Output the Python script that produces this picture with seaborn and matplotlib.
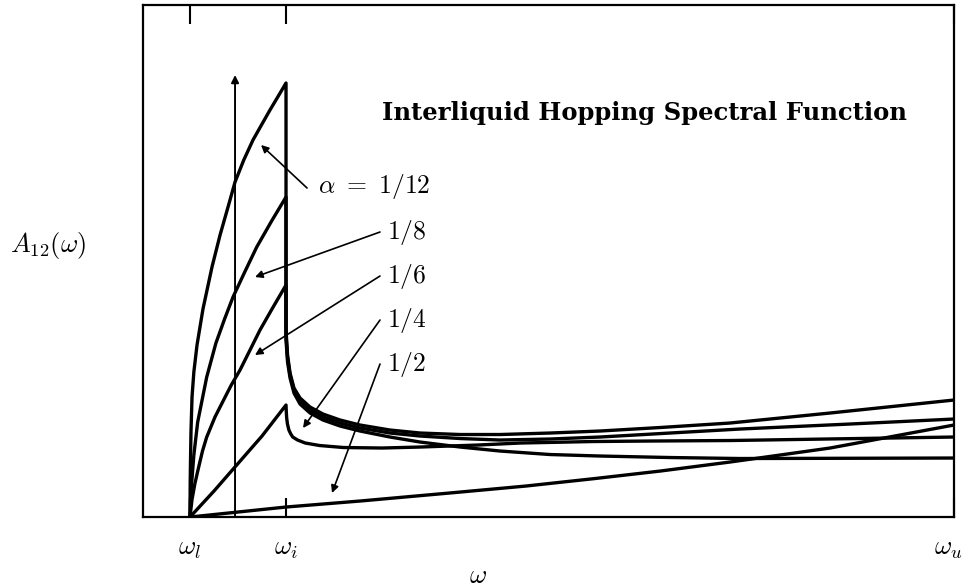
import matplotlib
matplotlib.use('Agg')
import matplotlib.pyplot as plt
import matplotlib.transforms as mtransforms
import seaborn as sns
import pandas as pd

# omega axis: omega_l = 0, omega_i = 1, omega_u = 7.958 (arbitrary units)
tick_pos = [0.0, 1.0, 7.958]
tick_labels = [r'$\omega_l$', r'$\omega_i$', r'$\omega_u$']

# curves (x = omega, y = A12)
x_12 = [0, 0.002, 0.005, 0.01, 0.021, 0.04, 0.073, 0.135, 0.229, 0.313, 0.396, 0.469, 0.56,
        0.656, 0.75, 0.833, 0.92, 1.0,
        1.0, 1.016, 1.042, 1.083, 1.146, 1.25, 1.385, 1.563, 1.771, 2.083, 2.396, 2.813,
        3.229, 3.75, 4.271, 4.896, 5.625, 6.667, 7.958]
y_12 = [0, 0.35, 0.55, 0.85, 1.20, 1.45, 1.72, 2.08, 2.50, 2.82, 3.10, 3.35, 3.57,
        3.77, 3.93, 4.07, 4.21, 4.34,
        1.87, 1.62, 1.44, 1.29, 1.19, 1.10, 1.03, 0.97, 0.92, 0.87, 0.84, 0.825,
        0.825, 0.84, 0.86, 0.895, 0.94, 1.04, 1.17]

x_8 = [0, 0.005, 0.018, 0.04, 0.08, 0.174, 0.27, 0.36, 0.448, 0.57, 0.695, 0.85, 1.0,
       1.0, 1.016, 1.042, 1.083, 1.146, 1.25, 1.385, 1.563, 1.771, 2.083, 2.396, 2.813,
       3.229, 3.75, 4.271, 5.0, 5.729, 6.875, 7.958]
y_8 = [0, 0.18, 0.35, 0.62, 0.95, 1.40, 1.74, 1.98, 2.20, 2.45, 2.70, 2.96, 3.20,
       1.82, 1.59, 1.42, 1.27, 1.16, 1.07, 1.00, 0.94, 0.89, 0.84, 0.81, 0.785,
       0.77, 0.78, 0.80, 0.84, 0.88, 0.93, 0.98]

x_6 = [0, 0.02, 0.05, 0.083, 0.13, 0.174, 0.26, 0.35, 0.43, 0.521, 0.62, 0.729, 0.86, 1.0,
       1.0, 1.016, 1.042, 1.083, 1.146, 1.25, 1.385, 1.563, 1.771, 2.083, 2.396, 2.813,
       3.229, 3.75, 4.271, 5.0, 5.729, 7.958]
y_6 = [0, 0.17, 0.33, 0.47, 0.66, 0.80, 1.00, 1.17, 1.32, 1.47, 1.66, 1.87, 2.09, 2.32,
       1.77, 1.55, 1.39, 1.24, 1.13, 1.04, 0.97, 0.91, 0.86, 0.80, 0.75, 0.70,
       0.66, 0.625, 0.61, 0.595, 0.585, 0.59]

x_4 = [0, 0.25, 0.486, 0.75, 1.0, 1.003, 1.007, 1.015, 1.03, 1.05, 1.07, 1.12, 1.2, 1.35,
       1.6, 2.0, 2.4, 3.0, 3.44, 4.2, 4.8, 5.625, 7.958]
y_4 = [0, 0.26, 0.52, 0.81, 1.12, 1.05, 0.99, 0.93, 0.87, 0.83, 0.80, 0.77, 0.74, 0.715,
       0.695, 0.69, 0.70, 0.72, 0.74, 0.755, 0.76, 0.765, 0.80]

x_2 = [0, 0.5, 1.0, 1.771, 2.76, 3.5, 4.219, 4.9, 5.625, 6.667, 7.958]
y_2 = [0, 0.05, 0.10, 0.16, 0.245, 0.31, 0.385, 0.46, 0.55, 0.69, 0.92]

# labels and where their arrows point
labels = [r'$\alpha\ =\ 1/12$', r'$1/8$', r'$1/6$', r'$1/4$', r'$1/2$']
label_xy = [(1.333, 3.31), (2.052, 2.85), (2.052, 2.41), (2.052, 1.97), (2.052, 1.53)]
arrow_from = [(1.219, 3.29), (1.979, 2.85), (1.979, 2.41), (1.979, 1.97), (1.979, 1.53)]
arrow_to = [(0.74, 3.72), (0.677, 2.40), (0.677, 1.62), (1.177, 0.89), (1.479, 0.24)]

sns.set_theme(style='white')
plt.rcParams['font.family'] = ['DejaVu Serif', 'DejaVu Sans']
plt.rcParams['mathtext.fontset'] = 'cm'
plt.rcParams['text.color'] = 'black'
plt.rcParams['xtick.color'] = 'black'
plt.rcParams['xtick.labelcolor'] = 'black'

fig = plt.figure(figsize=(9.66, 5.88), dpi=100)
ax = fig.add_axes([0.148, 0.1207, 0.8396, 0.8708])

for xs, ys in [(x_12, y_12), (x_8, y_8), (x_6, y_6), (x_4, y_4), (x_2, y_2)]:
    df = pd.DataFrame({'w': xs, 'A': ys})
    sns.lineplot(data=df, x='w', y='A', sort=False, estimator=None, ax=ax,
                 color='black', lw=2.4)

ax.set_xlim(-0.49, 7.958)
ax.set_ylim(0, 5.12)

# vertical arrow between omega_l and omega_i
ax.annotate('', xy=(0.469, 4.42), xytext=(0.469, 0),
            arrowprops=dict(arrowstyle='-|>', color='black', lw=1.4,
                            mutation_scale=11, shrinkA=0, shrinkB=0))

for lab, pos, a0, a1 in zip(labels, label_xy, arrow_from, arrow_to):
    ax.text(pos[0], pos[1], lab, fontsize=18.5, color='black', ha='left', va='center')
    ax.annotate('', xy=a1, xytext=a0,
                arrowprops=dict(arrowstyle='-|>', color='black', lw=1.2,
                                mutation_scale=11, shrinkA=0, shrinkB=0))

ax.text(2.0, 4.04, 'Interliquid Hopping Spectral Function', color='black',
        fontsize=17.5, fontweight='bold', family='DejaVu Serif', ha='left', va='center')

ax.set_xticks(tick_pos)
ax.set_xticklabels(tick_labels, fontsize=19, color='black')
ax.set_yticks([])
ax.tick_params(axis='x', direction='in', top=True, bottom=True, length=14,
               width=1.5, pad=14, color='black')
# keep the last label inside the picture
last = ax.get_xticklabels()[-1]
last.set_transform(last.get_transform() +
                   mtransforms.ScaledTranslation(-6 / 100, 0, fig.dpi_scale_trans))
for s in ax.spines.values():
    s.set_color('black')
    s.set_linewidth(1.6)
ax.set_xlabel('')
ax.set_ylabel('')

fig.text(0.010, 0.583, r'$A_{12}(\omega)$', fontsize=19, color='black', ha='left', va='center')
fig.text(0.495, 0.022, r'$\omega$', fontsize=19, color='black', ha='center', va='center')

fig.savefig('out.png', dpi=100, facecolor='white')
